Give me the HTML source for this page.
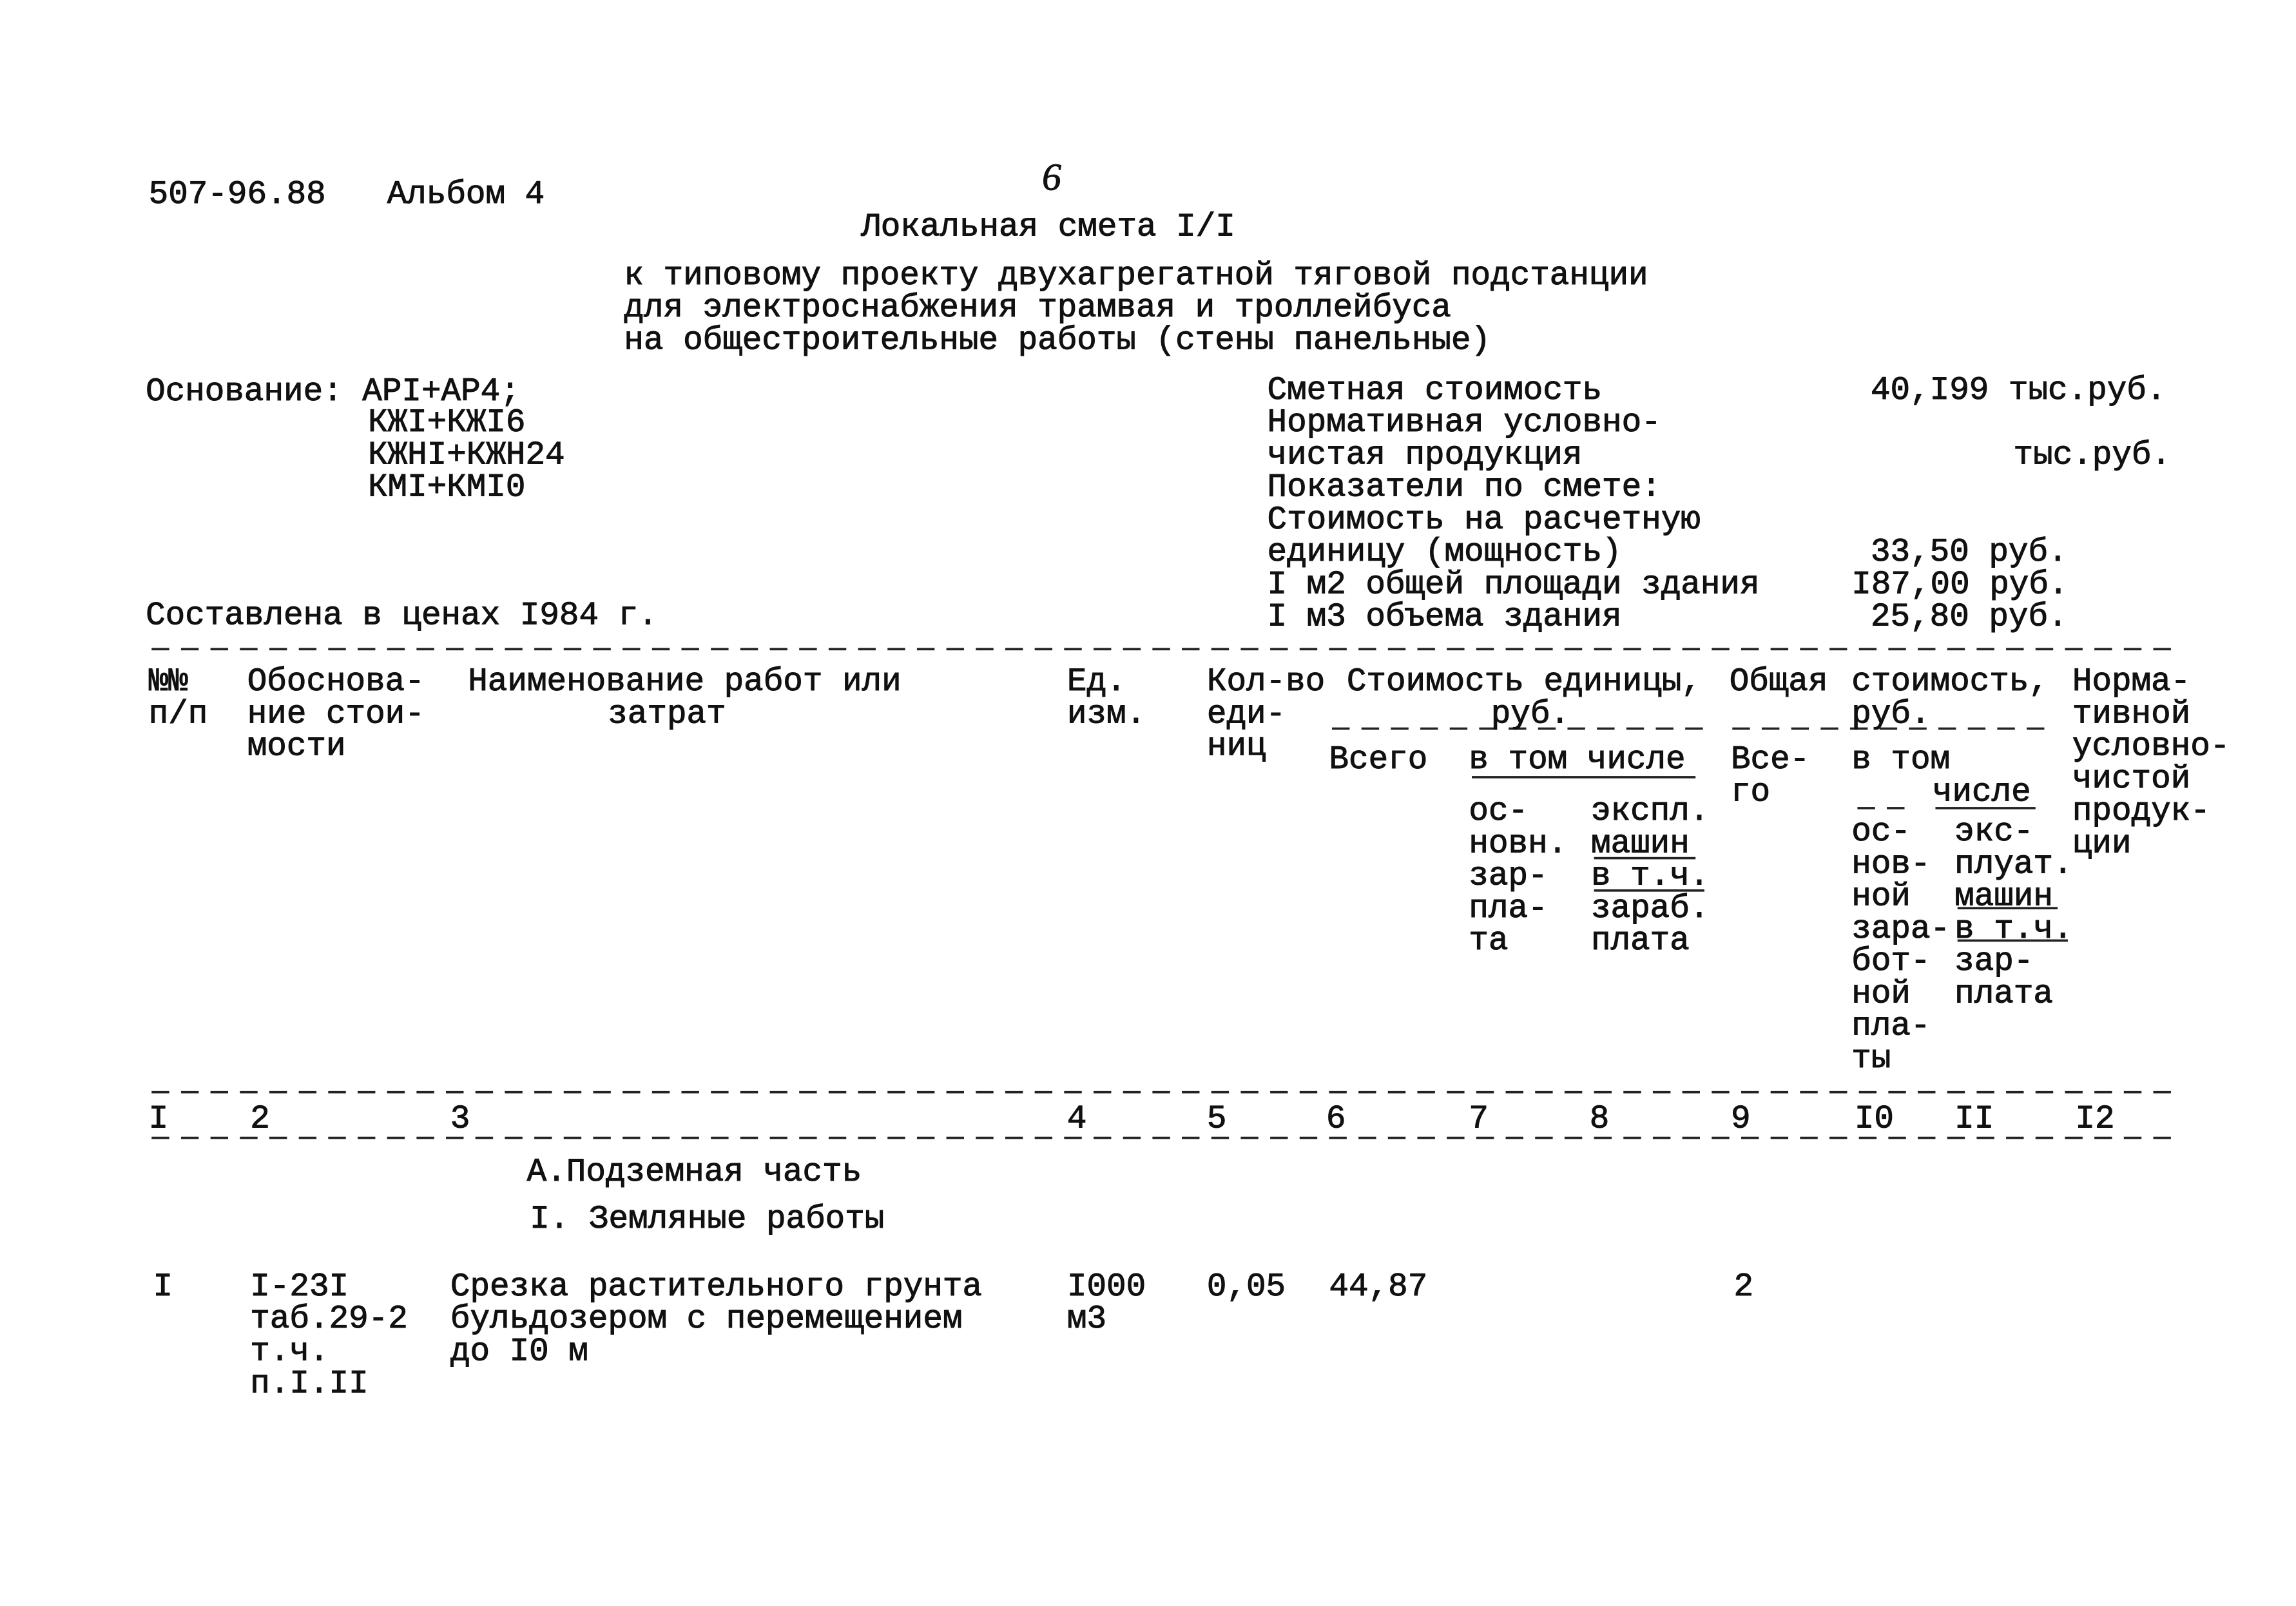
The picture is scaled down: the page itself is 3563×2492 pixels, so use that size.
<!DOCTYPE html>
<html><head><meta charset="utf-8">
<style>
html,body{margin:0;padding:0;background:#fff;}
body{width:3563px;height:2491px;overflow:hidden;position:relative;}
#c{position:absolute;left:0;top:0;width:1560px;height:1091px;transform:scale(2.284);transform-origin:0 0;}
#c div{position:absolute;font-family:"Liberation Mono","DejaVu Sans Mono",monospace;font-size:22.3px;line-height:22px;color:#111;white-space:pre;letter-spacing:0;-webkit-text-stroke:0.45px #111;}
svg{position:absolute;left:0;top:0;}
</style></head><body>
<div id="c">
<svg width="1560" height="1091">
<g stroke="#222" stroke-width="1.6" stroke-dasharray="12,8" fill="none">
<line x1="103" y1="441" x2="1483" y2="441"/>
<line x1="103" y1="742" x2="1483" y2="742"/>
<line x1="103" y1="773" x2="1483" y2="773"/>
<line x1="905" y1="495" x2="1163" y2="495"/>
<line x1="1177" y1="495" x2="1390" y2="495"/>
<line x1="1262" y1="549" x2="1300" y2="549"/>
</g>
<g stroke="#222" stroke-width="1.6" fill="none">
<line x1="1000" y1="528" x2="1152" y2="528"/>
<line x1="1083" y1="583" x2="1152" y2="583"/>
<line x1="1083" y1="605" x2="1158" y2="605"/>
<line x1="1315" y1="549" x2="1383" y2="549"/>
<line x1="1330" y1="617" x2="1398" y2="617"/>
<line x1="1330" y1="639" x2="1405" y2="639"/>
</g>
</svg>
<div style="left:101px;top:121px">507-96.88</div>
<div style="left:263px;top:121px">Альбом 4</div>
<div style="left:708px;top:110px;font-family:'Liberation Serif',serif;font-style:italic;font-size:26px">6</div>
<div style="left:585px;top:143px">Локальная смета I/I</div>
<div style="left:424px;top:176px">к типовому проекту двухагрегатной тяговой подстанции</div>
<div style="left:424px;top:198px">для электроснабжения трамвая и троллейбуса</div>
<div style="left:424px;top:220px">на общестроительные работы (стены панельные)</div>
<div style="left:99px;top:255px">Основание: API+AP4;</div>
<div style="left:250px;top:276px">КЖI+КЖI6</div>
<div style="left:250px;top:298px">КЖНI+КЖН24</div>
<div style="left:250px;top:320px">КМI+КМI0</div>
<div style="left:861px;top:254px">Сметная стоимость</div>
<div style="left:861px;top:276px">Нормативная условно-</div>
<div style="left:861px;top:298px">чистая продукция</div>
<div style="left:861px;top:320px">Показатели по смете:</div>
<div style="left:861px;top:342px">Стоимость на расчетную</div>
<div style="left:861px;top:364px">единицу (мощность)</div>
<div style="left:861px;top:386px">I м2 общей площади здания</div>
<div style="left:861px;top:408px">I м3 объема здания</div>
<div style="left:1271px;top:254px">40,I99 тыс.руб.</div>
<div style="left:1368px;top:298px">тыс.руб.</div>
<div style="left:1271px;top:364px">33,50 руб.</div>
<div style="left:1258px;top:386px">I87,00 руб.</div>
<div style="left:1271px;top:408px">25,80 руб.</div>
<div style="left:99px;top:407px">Составлена в ценах I984 г.</div>
<div style="left:101px;top:452px">№№
п/п</div>
<div style="left:168px;top:452px">Обоснова-
ние стои-
мости</div>
<div style="left:318px;top:452px">Наименование работ или</div>
<div style="left:413px;top:474px">затрат</div>
<div style="left:725px;top:452px">Ед.
изм.</div>
<div style="left:820px;top:452px">Кол-во
еди-
ниц</div>
<div style="left:915px;top:452px">Стоимость единицы,</div>
<div style="left:1013px;top:474px">руб.</div>
<div style="left:903px;top:505px">Всего</div>
<div style="left:998px;top:505px">в том числе</div>
<div style="left:998px;top:540px">ос-
новн.
зар-
пла-
та</div>
<div style="left:1081px;top:540px">экспл.
машин
в т.ч.
зараб.
плата</div>
<div style="left:1175px;top:452px">Общая</div>
<div style="left:1176px;top:505px">Все-
го</div>
<div style="left:1258px;top:452px">стоимость,</div>
<div style="left:1258px;top:474px">руб.</div>
<div style="left:1258px;top:505px">в том</div>
<div style="left:1313px;top:527px">числе</div>
<div style="left:1258px;top:554px">ос-
нов-
ной
зара-
бот-
ной
пла-
ты</div>
<div style="left:1328px;top:554px">экс-
плуат.
машин
в т.ч.
зар-
плата</div>
<div style="left:1408px;top:452px">Норма-
тивной
условно-
чистой
продук-
ции</div>
<div style="left:101px;top:749px">I</div>
<div style="left:170px;top:749px">2</div>
<div style="left:306px;top:749px">3</div>
<div style="left:725px;top:749px">4</div>
<div style="left:820px;top:749px">5</div>
<div style="left:901px;top:749px">6</div>
<div style="left:998px;top:749px">7</div>
<div style="left:1080px;top:749px">8</div>
<div style="left:1176px;top:749px">9</div>
<div style="left:1260px;top:749px">I0</div>
<div style="left:1328px;top:749px">II</div>
<div style="left:1410px;top:749px">I2</div>
<div style="left:358px;top:785px">А.Подземная часть</div>
<div style="left:360px;top:817px">I. Земляные работы</div>
<div style="left:104px;top:863px">I</div>
<div style="left:170px;top:863px">I-23I
таб.29-2
т.ч.
п.I.II</div>
<div style="left:306px;top:863px">Срезка растительного грунта
бульдозером с перемещением
до I0 м</div>
<div style="left:725px;top:863px">I000
м3</div>
<div style="left:820px;top:863px">0,05</div>
<div style="left:903px;top:863px">44,87</div>
<div style="left:1178px;top:863px">2</div>
</div>
</body></html>
